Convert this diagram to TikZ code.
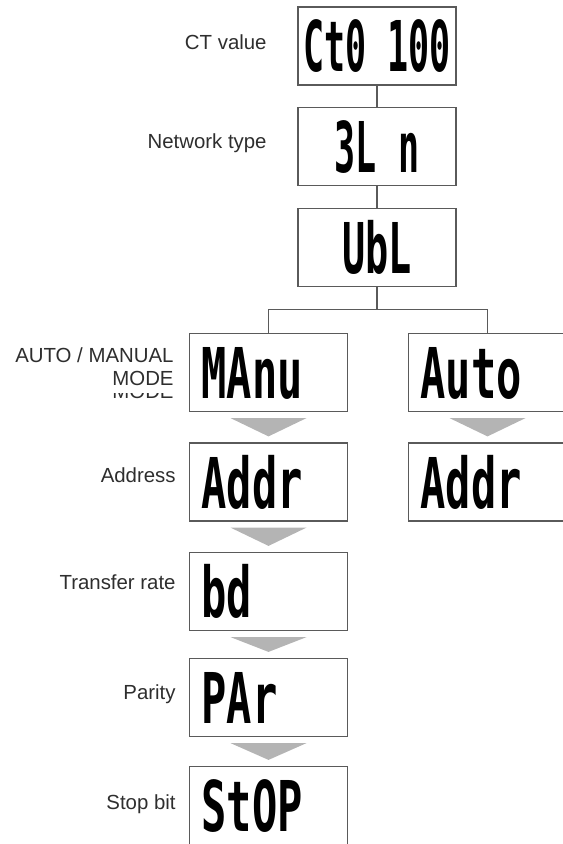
\documentclass[tikz,border=0pt]{standalone}
\usepackage{fontspec}
\usepackage{graphicx}
\setmainfont{Liberation Sans}
\newfontfamily\lcdfont{DejaVu Sans Mono}
\usepackage{tikz}
\usetikzlibrary{positioning,calc}
\definecolor{lcdLine}{HTML}{5A5A5A}
\definecolor{labelGray}{HTML}{2E2E2E}
\definecolor{flowGray}{HTML}{B4B4B4}
\newcommand{\lcd}[2][0.6]{\scalebox{#1}[1]{\fontsize{35}{40}\selectfont\lcdfont\bfseries #2}}

\begin{document}
\begin{tikzpicture}[
    x=0.5pt, y=-0.5pt,
    box/.style={draw=lcdLine, line width=0.6pt, fill=white, minimum width=79pt, minimum height=39pt,
      inner sep=0pt, text height=26pt, text depth=0pt},
    boxl/.style={box, text width=67pt, align=left},
    lbl/.style={font=\fontsize{10.2}{12}\selectfont, text=labelGray, anchor=base east, inner sep=0pt},
    link/.style={draw=lcdLine, line width=0.6pt},
    flow/.style={fill=flowGray}
  ]
  \useasboundingbox (0,0) rectangle (562,844);

  % Setup chain
  \node[box] (ct) at (377,46) {\lcd[0.5]{Ct0 100}};
  \node[box] (net) at (377,146.5) {\lcd[0.5]{3L n}};
  \node[box] (ubl) at (377,247.5) {\lcd[0.55]{UbL}};

  % Manual branch
  \node[boxl] (manu) at (268.5,372.5) {\lcd{MAnu}};
  \node[boxl] (addrM) at (268.5,482) {\lcd{Addr}};
  \node[boxl] (bd) at (268.5,591.5) {\lcd{bd}};
  \node[boxl] (par) at (268.5,697.5) {\lcd{PAr}};
  \node[boxl] (stop) at (268.5,805.5) {\lcd{StOP}};

  % Auto branch
  \node[boxl] (auto) at (487.5,372.5) {\lcd{Auto}};
  \node[boxl] (addrA) at (487.5,482) {\lcd{Addr}};

  % Labels
  \node[lbl] (ctlbl) at (267,50) {CT value};
  \node[lbl] (netlbl) at (267,149) {Network type};
  \node[lbl] (modelbl) at (174,362) {AUTO / MANUAL};
  \node[lbl] (modelbl2) at (174,385) {MODE};
  \begin{scope}
    \clip (90,393) rectangle (180,400);
    \node[lbl] (modeghost) at (174,398) {MODE};
  \end{scope}
  \node[lbl] (addrlbl) at (176,482) {Address};
  \node[lbl] (bdlbl) at (176,589) {Transfer rate};
  \node[lbl] (parlbl) at (176,699) {Parity};
  \node[lbl] (stoplbl) at (176,809) {Stop bit};

  % Connectors
  \coordinate (split) at ($(ubl.south)+(0,22)$);
  \draw[link] (ct) -- (net);
  \draw[link] (net) -- (ubl);
  \draw[link] (ubl) -- (split);
  \draw[link] (split) -| (manu.north);
  \draw[link] (split) -| (auto.north);

  % Step arrows
  \foreach \a/\b in {manu/addrM, addrM/bd, bd/par, par/stop, auto/addrA} {
    \fill[flow] ($(\a.south)+(-38,6)$) -- ($(\a.south)+(38,6)$) -- ($(\b.north)+(0,-6)$) -- cycle;
  }
\end{tikzpicture}
\end{document}
